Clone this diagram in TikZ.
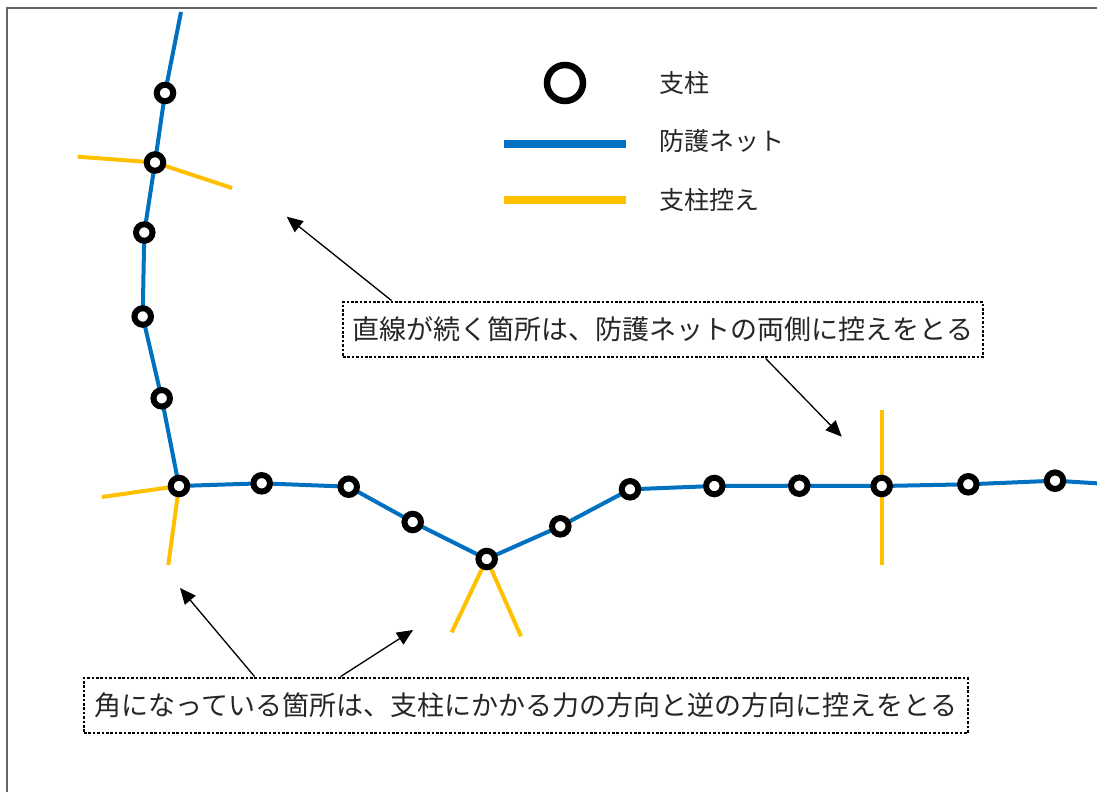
\documentclass[tikz,border=0pt]{standalone}
\usepackage{fontspec}
\newfontfamily\cjk{Noto Sans CJK JP}
\usetikzlibrary{arrows.meta,backgrounds,calc}
\definecolor{netblue}{HTML}{0070C0}
\definecolor{stayyellow}{HTML}{FFC000}
\definecolor{framegray}{HTML}{666666}
\definecolor{txt}{HTML}{262626}
\begin{document}
\begin{tikzpicture}[x=1pt,y=-1pt,
  pole/.style={circle,draw=black,fill=white,line width=6pt,minimum size=16.5pt,inner sep=0pt},
  legpole/.style={circle,draw=black,fill=white,line width=6.5pt,minimum size=36pt,inner sep=0pt},
  net/.style={draw=netblue,line width=4pt},
  stay/.style={draw=stayyellow,line width=4pt},
  legline/.style={line width=8pt},
  legtext/.style={anchor=west,inner sep=0pt,text=txt,font=\cjk\fontsize{25}{30}\selectfont},
  note/.style={draw=black,line width=2.8pt,dash pattern=on 2.6pt off 1.8pt,inner sep=0pt,text=txt,font=\cjk\fontsize{27}{32}\selectfont},
  callout/.style={draw=black,line width=1.3pt,-{Triangle[length=16pt,width=14pt]}}]
\useasboundingbox (0,0) rectangle (1097,792);
\draw[framegray,line width=1.5pt] (7,792) -- (7,8) -- (1097,8);

% poles
\node[pole] (p1) at (165,93) {};
\node[pole] (p2) at (155,162.5) {};
\node[pole] (p3) at (144.3,232.5) {};
\node[pole] (p4) at (142.7,316.5) {};
\node[pole] (p5) at (161.7,398.3) {};
\node[pole] (c1) at (179,486) {};
\node[pole] (h1) at (261.7,483.3) {};
\node[pole] (h2) at (348.7,486.7) {};
\node[pole] (h3) at (412.7,522) {};
\node[pole] (v)  at (486.7,559) {};
\node[pole] (h5) at (560.3,526.3) {};
\node[pole] (h6) at (630,489.3) {};
\node[pole] (h7) at (714.3,486) {};
\node[pole] (h8) at (799.3,485.7) {};
\node[pole] (h9) at (881.7,486) {};
\node[pole] (h10) at (968.3,484.3) {};
\node[pole] (h11) at (1055,480.7) {};
\coordinate (ntop) at (181,12);
\coordinate (nend) at (1097,483.3);
% stay ends
\coordinate (s2a) at (77.7,156.7);
\coordinate (s2b) at (232,188);
\coordinate (sca) at (102,497);
\coordinate (scb) at (168.3,565);
\coordinate (sva) at (451.7,632.3);
\coordinate (svb) at (521,636.3);
\coordinate (sha) at (881.7,410);
\coordinate (shb) at (881.7,565);

\begin{scope}[on background layer]
\draw[net] (ntop) -- (p1.center) -- (p2.center) -- (p3.center) -- (p4.center) -- (p5.center) -- (c1.center)
  -- (h1.center) -- (h2.center) -- (h3.center) -- (v.center) -- (h5.center) -- (h6.center) -- (h7.center)
  -- (h8.center) -- (h9.center) -- (h10.center) -- (h11.center) -- (nend);
\draw[stay] (s2a) -- (p2.center) -- (s2b);
\draw[stay] (sca) -- (c1.center) -- (scb);
\draw[stay] (sva) -- (v.center) -- (svb);
\draw[stay] (sha) -- (shb);
\end{scope}

% legend
\node[legpole] (lp) at (565,83) {};
\coordinate (lb1) at (504,143.5);
\coordinate (lb2) at (626,143.5);
\coordinate (ly1) at (504,200);
\coordinate (ly2) at (626,200);
\draw[legline,netblue] (lb1) -- (lb2);
\draw[legline,stayyellow] (ly1) -- (ly2);
\node[legtext] (lt1) at (659,83) {支柱};
\node[legtext] (lt2) at (659,141) {防護ネット};
\node[legtext] (lt3) at (659,200) {支柱控え};

% notes
\node[note,minimum width=640pt,minimum height=55pt] (ubox) at (663,329.5) {直線が続く箇所は、防護ネットの両側に控えをとる};
\node[note,minimum width=884pt,minimum height=55pt] (lbox) at (526,705.5) {角になっている箇所は、支柱にかかる力の方向と逆の方向に控えをとる};

\coordinate (t1) at (286.7,216.7);
\coordinate (t2) at (841.7,436.7);
\coordinate (t3) at (180,588);
\coordinate (t4) at (413,630);
\draw[callout] ($(ubox.north west)+(50,0)$) -- (t1);
\draw[callout] ($(ubox.south west)+(424,0)$) -- (t2);
\draw[callout] ($(lbox.north west)+(172,0)$) -- (t3);
\draw[callout] ($(lbox.north west)+(258,0)$) -- (t4);
\end{tikzpicture}
\end{document}
